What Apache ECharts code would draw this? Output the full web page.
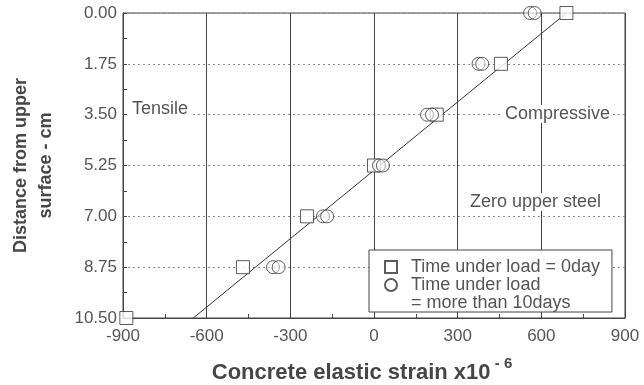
<!DOCTYPE html>
<html>
<head>
<meta charset="utf-8">
<script src="https://cdn.jsdelivr.net/npm/echarts@6/dist/echarts.min.js"></script>
<style>
html,body{margin:0;padding:0;background:#fff;}
#chart{width:644px;height:385px;}
</style>
</head>
<body>
<div id="chart"></div>
<script>
// Depth below upper surface (cm)
const depths = [0, 1.75, 3.5, 5.25, 7.0, 8.75, 10.5];
// Strain (x10^-6), time under load = 0 day
const strain0day = [690, 455, 225, 0, -240, -470, -888];
// Strain (x10^-6), time under load > 10 days (two overlapping readings per depth)
const depths10 = [0, 1.75, 3.5, 5.25, 7.0, 8.75];
const strain10daysA = [560, 375, 190, 18, -183, -362];
const strain10daysB = [576, 388, 208, 32, -168, -342];
// Fitted line end points
const fitStrain = [-648, 690];
const fitDepth = [10.5, 0];

const name0 = 'Time under load = 0day';
const name10 = 'Time under load\n= more than 10days';

const chart = echarts.init(document.getElementById('chart'));
const font = 'Liberation Sans, Arial, sans-serif';
const textCol = '#555';
const titleCol = '#464646';
const lineCol = '#444';

const pts0 = depths.map((d, i) => [strain0day[i], d]);
const pts10 = [];
depths10.forEach((d, i) => { pts10.push([strain10daysA[i], d]); pts10.push([strain10daysB[i], d]); });
const fit = fitStrain.map((s, i) => [s, fitDepth[i]]);

chart.setOption({
  animation: false,
  backgroundColor: '#fff',
  grid: { left: 123, right: 19, top: 13, bottom: 67, show: true, borderColor: lineCol, borderWidth: 1, backgroundColor: 'transparent', outerBoundsMode: 'none', containLabel: false },
  xAxis: {
    type: 'value', min: -900, max: 900, interval: 300,
    name: 'Concrete elastic strain x10{sup| - 6}',
    nameLocation: 'middle', nameGap: 38,
    nameTextStyle: {
      fontFamily: font, fontSize: 22, fontWeight: 'bold', color: titleCol, padding: [0, 24, 0, 0],
      rich: { sup: { fontFamily: font, fontSize: 15, fontWeight: 'bold', color: titleCol, verticalAlign: 'top', padding: [0, 0, 18, 0] } }
    },
    axisLine: { show: true, onZero: false, lineStyle: { color: lineCol } },
    axisTick: { show: true, inside: true, length: 4, lineStyle: { color: lineCol } },
    minorTick: { show: true, splitNumber: 2, length: 4, lineStyle: { color: lineCol } },
    axisLabel: { fontFamily: font, fontSize: 17, color: textCol, margin: 10 },
    splitLine: { show: true, lineStyle: { color: lineCol, width: 1 } }
  },
  yAxis: {
    type: 'value', min: 0, max: 10.5, interval: 1.75, inverse: true,
    name: 'Distance from upper\nsurface - cm',
    nameLocation: 'middle', nameRotate: 90, nameGap: 64,
    nameTextStyle: { fontFamily: font, fontSize: 18, fontWeight: 'bold', color: titleCol, lineHeight: 25 },
    axisLine: { show: true, onZero: false, lineStyle: { color: lineCol } },
    axisTick: { show: true, inside: true, length: 4, lineStyle: { color: lineCol } },
    minorTick: { show: true, splitNumber: 2, length: 4, lineStyle: { color: lineCol } },
    axisLabel: { fontFamily: font, fontSize: 17, color: textCol, margin: 6, formatter: v => v.toFixed(2) },
    splitLine: { show: true, lineStyle: { color: '#8a8a8a', width: 1, type: [2, 3] } }
  },
  legend: {
    orient: 'vertical', left: 369, top: 250,
    data: [name0, name10],
    itemWidth: 12, itemHeight: 12, itemGap: -18,
    backgroundColor: '#fff', borderColor: lineCol, borderWidth: 1,
    padding: [8, 12, 0, 15],
    selectedMode: false,
    formatter: function (n) { return n === name10 ? '{b|' + n + '}' : '{a|' + n + '}'; },
    textStyle: {
      fontFamily: font, fontSize: 18, color: textCol, lineHeight: 18,
      rich: {
        a: { fontFamily: font, fontSize: 18, color: textCol, lineHeight: 18, padding: [0, 0, 0, 9] },
        b: { fontFamily: font, fontSize: 18, color: textCol, lineHeight: 18, padding: [18, 0, 0, 9] }
      }
    }
  },
  graphic: [
    { type: 'text', left: 128, top: 100, z: 5, style: { text: 'Tensile', font: '18px ' + font, fill: textCol, backgroundColor: '#fff', padding: [0, 4, 0, 4] } },
    { type: 'text', left: 502, top: 105, z: 5, style: { text: 'Compressive', font: '18px ' + font, fill: textCol, backgroundColor: '#fff', padding: [0, 3, 0, 3] } },
    { type: 'text', left: 467, top: 193, z: 5, style: { text: 'Zero upper steel', font: '18px ' + font, fill: textCol, backgroundColor: '#fff', padding: [0, 3, 0, 3] } }
  ],
  series: [
    {
      name: 'fit', type: 'line', data: fit, symbol: 'none', silent: true,
      lineStyle: { color: '#333', width: 1 }, z: 3
    },
    {
      name: name0, type: 'scatter', data: pts0, symbol: 'rect', symbolSize: 13,
      itemStyle: { color: '#fff', borderColor: '#333', borderWidth: 1 }, z: 4
    },
    {
      name: name10, type: 'scatter', data: pts10, symbol: 'circle', symbolSize: 13,
      itemStyle: { color: 'rgba(255,255,255,0.6)', borderColor: '#333', borderWidth: 1 }, z: 4
    }
  ]
});
</script>
</body>
</html>
